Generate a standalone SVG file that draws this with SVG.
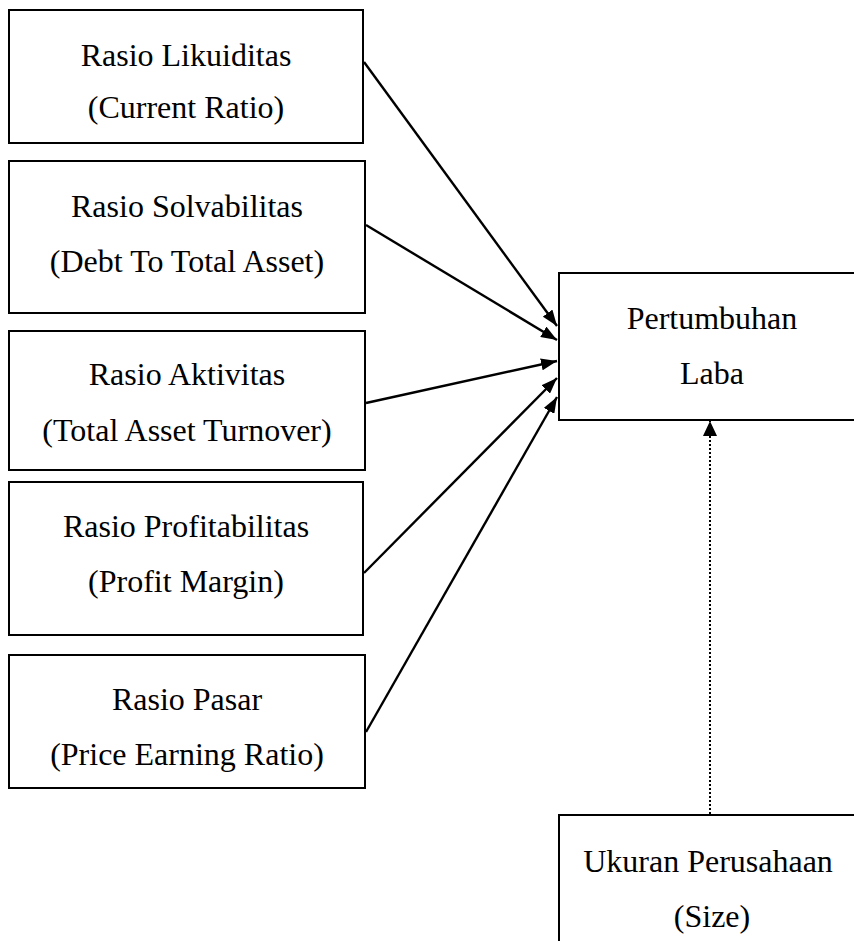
<svg xmlns="http://www.w3.org/2000/svg" width="854" height="941" viewBox="0 0 854 941">
<style>
.box{fill:#fff;stroke:#000;stroke-width:2}
.t{font-family:"Liberation Serif","Times New Roman",serif;font-size:32px;fill:#000;text-anchor:middle}
.c{stroke:#000;stroke-width:2.4;fill:none}
.d{stroke:#000;stroke-width:2;fill:none;stroke-dasharray:2 2}
</style>
<defs>
<marker id="ah" markerUnits="userSpaceOnUse" markerWidth="16" markerHeight="12" refX="16" refY="6" orient="auto">
<path d="M0,0 L16,6 L0,12 z" fill="#000"/>
</marker>
<marker id="ah2" markerUnits="userSpaceOnUse" markerWidth="15" markerHeight="14" refX="15" refY="7" orient="auto">
<path d="M0,0 L15,7 L0,14 z" fill="#000"/>
</marker>
</defs>
<rect width="854" height="941" fill="#fff"/>
<g id="likuiditas">
<rect class="box" x="9" y="10" width="354" height="133"/>
<text class="t" x="186" y="66">Rasio Likuiditas</text>
<text class="t" x="186" y="118">(Current Ratio)</text>
</g>
<g id="solvabilitas">
<rect class="box" x="9" y="161" width="356" height="152"/>
<text class="t" x="187" y="217">Rasio Solvabilitas</text>
<text class="t" x="187" y="272">(Debt To Total Asset)</text>
</g>
<g id="aktivitas">
<rect class="box" x="9" y="331" width="356" height="139"/>
<text class="t" x="187" y="385">Rasio Aktivitas</text>
<text class="t" x="187" y="441">(Total Asset Turnover)</text>
</g>
<g id="profitabilitas">
<rect class="box" x="9" y="482" width="354" height="153"/>
<text class="t" x="186" y="537">Rasio Profitabilitas</text>
<text class="t" x="186" y="592">(Profit Margin)</text>
</g>
<g id="pasar">
<rect class="box" x="9" y="655" width="356" height="133"/>
<text class="t" x="187" y="710">Rasio Pasar</text>
<text class="t" x="187" y="765">(Price Earning Ratio)</text>
</g>
<g id="pertumbuhan">
<rect class="box" x="559" y="273" width="320" height="147"/>
<text class="t" x="712" y="329">Pertumbuhan</text>
<text class="t" x="712" y="384">Laba</text>
</g>
<g id="ukuran">
<rect class="box" x="559" y="815" width="320" height="200"/>
<text class="t" x="708" y="872">Ukuran Perusahaan</text>
<text class="t" x="712" y="927">(Size)</text>
</g>
<g id="connectors">
<line class="c" x1="364" y1="62" x2="557" y2="326" marker-end="url(#ah)"/>
<line class="c" x1="366" y1="225" x2="557" y2="340" marker-end="url(#ah)"/>
<line class="c" x1="366" y1="403" x2="557" y2="361" marker-end="url(#ah)"/>
<line class="c" x1="364" y1="573" x2="557" y2="378" marker-end="url(#ah)"/>
<line class="c" x1="366" y1="732" x2="557" y2="397" marker-end="url(#ah)"/>
<line class="d" x1="710" y1="814" x2="710" y2="421" marker-end="url(#ah2)"/>
</g>
</svg>
